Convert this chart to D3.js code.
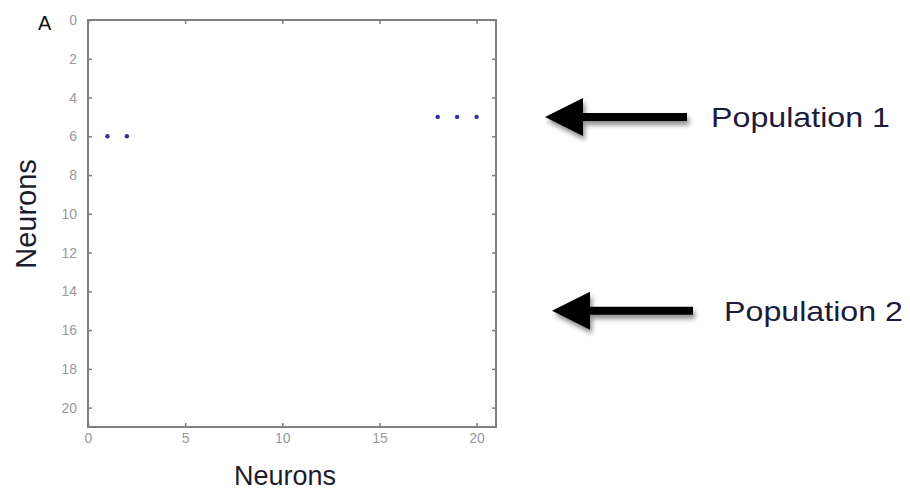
<!DOCTYPE html>
<html>
<head>
<meta charset="utf-8">
<script src="https://cdn.jsdelivr.net/npm/d3@7"></script>
<style>
  body { margin: 0; background: #fff; }
  svg { display: block; font-family: "Liberation Sans", Arial, sans-serif; }
</style>
</head>
<body>
<div id="chart"></div>
<script>
// spikes: x neuron vs y neuron
var xNeuron = [1, 2, 18, 19, 20];
var yNeuron = [6, 6, 5, 5, 5];
var xTicks = [0, 5, 10, 15, 20];
var yTicks = [0, 2, 4, 6, 8, 10, 12, 14, 16, 18, 20];
var popLabels = ["Population 1", "Population 2"];
var popNeuron = [5, 15];

var w = 910, h = 491;
var plotLeft = 88, plotRight = 496, plotTop = 20, plotBottom = 427;

var svg = d3.select("#chart").append("svg")
    .attr("width", w)
    .attr("height", h);

var x = d3.scaleLinear().domain([0, 21]).range([plotLeft, plotRight]);
var y = d3.scaleLinear().domain([0, 21]).range([plotTop, plotBottom]);

var defs = svg.append("defs");
var f = defs.append("filter").attr("id", "shadow")
    .attr("x", "-20%").attr("y", "-50%").attr("width", "150%").attr("height", "250%");
f.append("feDropShadow")
    .attr("dx", 2).attr("dy", 4).attr("stdDeviation", 2.5)
    .attr("flood-color", "#000").attr("flood-opacity", 0.45);

// box
svg.append("rect")
    .attr("x", plotLeft).attr("y", plotTop)
    .attr("width", plotRight - plotLeft).attr("height", plotBottom - plotTop)
    .attr("fill", "#fff")
    .attr("stroke", "#7f7f7f")
    .attr("stroke-width", 2);

function styleAxis(g) {
    g.select(".domain").remove();
    g.selectAll(".tick line").attr("stroke", "#7f7f7f").attr("stroke-width", 1.5);
    g.selectAll(".tick text").attr("fill", "#999").style("font-size", "14px");
}

svg.append("g").attr("transform", "translate(0," + plotBottom + ")")
    .call(d3.axisBottom(x).tickValues(xTicks).tickSizeInner(-4).tickPadding(6))
    .call(styleAxis);
svg.append("g").attr("transform", "translate(0," + plotTop + ")")
    .call(d3.axisTop(x).tickValues(xTicks).tickSizeInner(-4).tickFormat(""))
    .call(styleAxis);
svg.append("g").attr("transform", "translate(" + plotLeft + ",0)")
    .call(d3.axisLeft(y).tickValues(yTicks).tickSizeInner(-4).tickPadding(11))
    .call(styleAxis);
svg.append("g").attr("transform", "translate(" + plotRight + ",0)")
    .call(d3.axisRight(y).tickValues(yTicks).tickSizeInner(-4).tickFormat(""))
    .call(styleAxis);

// spike dots
svg.selectAll("circle.spike")
    .data(xNeuron)
    .enter()
    .append("circle")
    .attr("class", "spike")
    .attr("cx", function (d) { return x(d); })
    .attr("cy", function (d, i) { return y(yNeuron[i]); })
    .attr("r", 2.2)
    .attr("fill", "#3030a0");

// labels
svg.append("text").text("A")
    .attr("x", 38).attr("y", 30)
    .style("font-size", "20px").attr("fill", "#111");

svg.append("text").text("Neurons")
    .attr("text-anchor", "middle")
    .attr("transform", "translate(36,214) rotate(-90)")
    .style("font-size", "29px").attr("fill", "#1c1c2c");

svg.append("text").text("Neurons")
    .attr("text-anchor", "middle")
    .attr("x", 285).attr("y", 485)
    .style("font-size", "27px").attr("fill", "#1c1c2c");

// arrows pointing to populations
var arrowX0 = [545, 552];
var arrowX1 = [687, 693];
var textX = [711, 724];

popLabels.forEach(function (lab, i) {
    var yy = y(popNeuron[i]);
    var a = arrowX0[i], b = arrowX1[i];
    var g = svg.append("g").attr("filter", "url(#shadow)");
    g.append("path")
        .attr("d", "M" + a + "," + yy +
            " L" + (a + 38) + "," + (yy - 19) +
            " L" + (a + 38) + "," + (yy - 4) +
            " L" + b + "," + (yy - 4) +
            " L" + b + "," + (yy + 4) +
            " L" + (a + 38) + "," + (yy + 4) +
            " L" + (a + 38) + "," + (yy + 19) + " Z")
        .attr("fill", "#000");
    svg.append("text").text(lab)
        .attr("x", textX[i]).attr("y", yy + 10)
        .attr("textLength", 179)
        .attr("lengthAdjust", "spacingAndGlyphs")
        .style("font-size", "28px").attr("fill", "#1c1c3a");
});
</script>
</body>
</html>
